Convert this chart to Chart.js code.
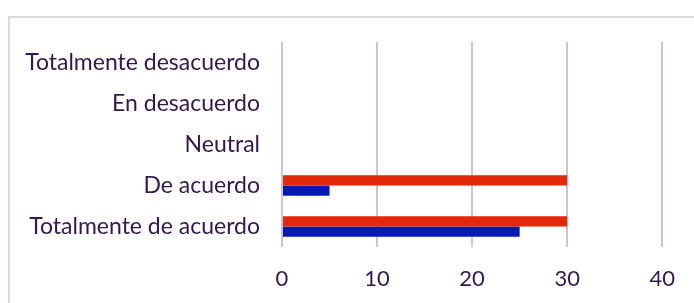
<!DOCTYPE html>
<html>
<head>
<meta charset="utf-8">
<script src="https://cdn.jsdelivr.net/npm/chart.js@4"></script>
<style>
  html, body { margin: 0; padding: 0; background: #fff; overflow: hidden; }
  #wrap { width: 694px; height: 303px; }
</style>
</head>
<body>
<div id="wrap"><canvas id="barChart"></canvas></div>
<script>
const categories = ['Totalmente desacuerdo', 'En desacuerdo', 'Neutral', 'De acuerdo', 'Totalmente de acuerdo'];
const redValues = [0, 0, 0, 30, 30];
const blueValues = [0, 0, 0, 5, 25];
const xTicks = [0, 10, 20, 30, 40];

const textColor = '#33194d';
const gridColor = '#cbc3d8';

// outer frame of the chart (only top and left edges visible in the crop)
const framePlugin = {
  id: 'frame',
  beforeDraw(chart) {
    const { ctx } = chart;
    ctx.save();
    ctx.strokeStyle = '#d2cadc';
    ctx.lineWidth = 1.5;
    ctx.beginPath();
    ctx.moveTo(9, 320);
    ctx.lineTo(9, 17);
    ctx.lineTo(720, 17);
    ctx.stroke();
    ctx.restore();
  }
};

const ctx = document.getElementById('barChart').getContext('2d');
new Chart(ctx, {
  type: 'bar',
  data: {
    labels: categories,
    datasets: [
      { label: 'Serie 1', data: redValues, backgroundColor: '#e3290b' },
      { label: 'Serie 2', data: blueValues, backgroundColor: '#0519b5' }
    ]
  },
  options: {
    indexAxis: 'y',
    responsive: true,
    maintainAspectRatio: false,
    animation: false,
    categoryPercentage: 0.5,
    barPercentage: 1.0,
    layout: { padding: { top: 42, right: 23, left: 0, bottom: 0 } },
    plugins: {
      legend: { display: false },
      tooltip: { enabled: false }
    },
    scales: {
      x: {
        min: 0,
        max: 40,
        afterBuildTicks: s => { s.ticks = xTicks.map(v => ({ value: v })); },
        afterFit: s => { s.height = 56; },
        border: { display: false },
        grid: { color: gridColor, lineWidth: 2, drawTicks: false },
        ticks: {
          color: textColor,
          padding: 19,
          font: { family: 'Lato', size: 22 }
        }
      },
      y: {
        afterFit: s => { s.width = 282; },
        border: { display: false },
        grid: { display: false, drawTicks: false },
        ticks: {
          color: textColor,
          padding: 22,
          font: { family: 'Lato', size: 23 }
        }
      }
    }
  },
  plugins: [framePlugin]
});
</script>
</body>
</html>
